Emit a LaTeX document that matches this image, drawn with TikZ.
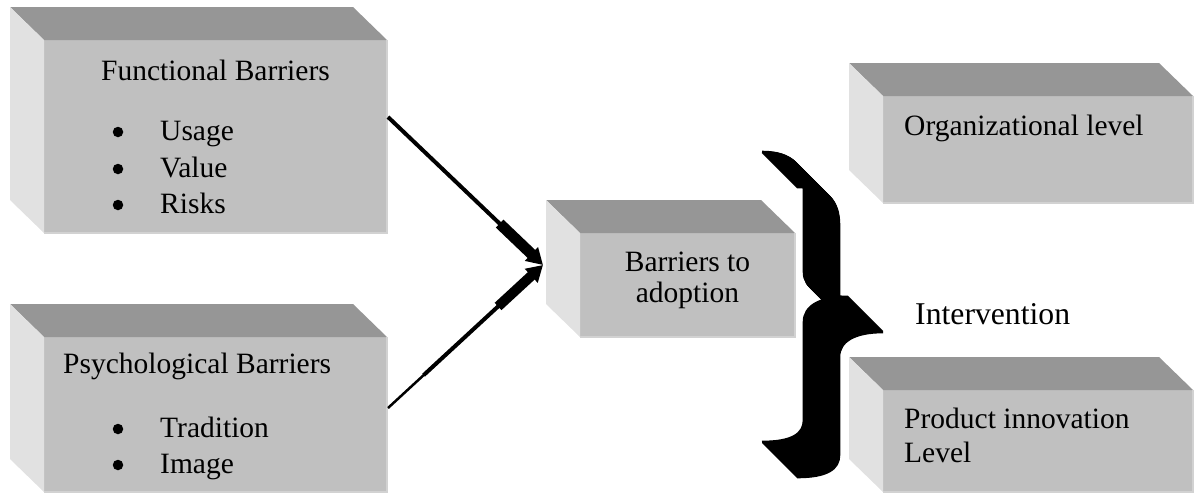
\documentclass[tikz,border=0pt]{standalone}
\usepackage{fontspec}
\setmainfont{Liberation Serif}
\usetikzlibrary{calc,arrows.meta}

\definecolor{facefront}{HTML}{C0C0C0}
\definecolor{facetop}{HTML}{969696}
\definecolor{faceside}{HTML}{E1E1E1}
\definecolor{faceedge}{HTML}{D2D2D2}

\tikzset{
  front/.style={fill=facefront, draw=none, inner sep=0pt, outer sep=0pt},
  lbl/.style={inner sep=0pt, font=\fontsize{29.5}{35}\selectfont},
  biglbl/.style={inner sep=0pt, font=\fontsize{31.7}{38}\selectfont},
  dotmark/.style={circle, fill=black, inner sep=0pt, minimum size=10.5pt},
  thinshaft/.style={line width=#1, line cap=butt},
  headshaft/.style={line width=#1, -{Triangle[length=16pt,width=18pt]}},
  bracestroke/.style={line width=2.6pt, line cap=butt, black}
}

% A bevelled slab: front face node plus top and left faces receding up-left
\newcommand{\slab}[5]{%
  \node[front, minimum width=#4, minimum height=#5, anchor=north west] (#1) at (#2,#3) {};
  \fill[facetop] (#1.north west) -- ++(-34,-33) -- ($(#1.north east)+(-34,-33)$) -- (#1.north east) -- cycle;
  \fill[faceside] (#1.north west) -- ++(-34,-33) -- ($(#1.south west)+(-34,-33)$) -- (#1.south west) -- cycle;
  \draw[faceedge, line width=1.5pt] (#1.north east) -- (#1.south east) -- (#1.south west);
}

\begin{document}
\begin{tikzpicture}[x=1pt, y=-1pt]
\useasboundingbox (0,0) rectangle (1198,493);

% slabs
\slab{fb}{44}{40}{343}{193}
\slab{pb}{44}{337}{343}{155}
\slab{ba}{580}{233}{215}{104}
\slab{ol}{883}{96}{310}{107}
\slab{pl}{883}{390}{310}{102}

% functional barriers
\node[lbl, anchor=base] (fbt) at (215.5,80) {Functional Barriers};
\node[dotmark] (fbb1) at (118,132) {};
\node[lbl, anchor=base west] (fbi1) at (160,140) {Usage};
\node[dotmark] (fbb2) at (118,169) {};
\node[lbl, anchor=base west] (fbi2) at (160,177) {Value};
\node[dotmark] (fbb3) at (118,205) {};
\node[lbl, anchor=base west] (fbi3) at (160,213) {Risks};

% psychological barriers
\node[lbl, anchor=base west] (pbt) at (63,373) {Psychological Barriers};
\node[dotmark] (pbb1) at (118,429) {};
\node[lbl, anchor=base west] (pbi1) at (160,437) {Tradition};
\node[dotmark] (pbb2) at (118,465) {};
\node[lbl, anchor=base west] (pbi2) at (160,473) {Image};

% barriers to adoption
\node[lbl, anchor=base] (bat1) at (687.5,271) {Barriers to};
\node[lbl, anchor=base] (bat2) at (687.5,302) {adoption};

% intervention levels
\node[lbl, anchor=base west] (olt) at (904,135) {Organizational level};
\node[lbl, anchor=base west] (plt1) at (904,428) {Product innovation};
\node[lbl, anchor=base west] (plt2) at (904,462) {Level};
\node[biglbl, anchor=base west] (iv) at (915,324) {Intervention};

% converging arrows
\coordinate (tip) at ($(ba.west)+(-37,-20)$);
\coordinate (fbo) at ($(fb.east)+(1,-19.5)$);
\coordinate (pbo) at ($(pb.east)+(1,-6.5)$);

\draw[thinshaft=4pt, shorten >=10pt] (fbo) -- (tip);
\draw[headshaft=11pt] ($(fbo)!0.72!(tip)$) -- (tip);

\draw[thinshaft=2.5pt, shorten >=10pt] (pbo) -- (tip);
\draw[thinshaft=4pt] ($(pbo)!0.23!(tip)$) -- ($(pbo)!0.72!(tip)$);
\draw[headshaft=10pt] ($(pbo)!0.71!(tip)$) -- (tip);

% extruded curly brace
\foreach \s in {0,0.5,...,35} {
  \draw[bracestroke, shift={(\s,\s)}]
    (762,152) .. controls (792,152) and (804,166) .. (804,190)
    -- (804,272) .. controls (804,288) and (820,297) .. (848,297)
    .. controls (820,297) and (804,306) .. (804,322)
    -- (804,420) .. controls (804,434) and (792,442) .. (762,442);
}
\end{tikzpicture}
\end{document}
